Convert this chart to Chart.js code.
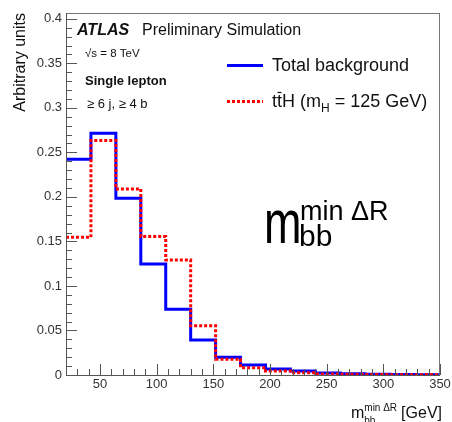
<!DOCTYPE html>
<html>
<head>
<meta charset="utf-8">
<script src="https://cdn.jsdelivr.net/npm/chart.js@4"></script>
<style>
html,body{margin:0;padding:0;background:#fff;}
#c{display:block;}
</style>
</head>
<body>
<canvas id="c" width="452" height="422"></canvas>
<script>
// ---- data ----
const binEdges = [20, 42, 64, 86, 108, 130, 152, 174, 196, 218, 240, 262, 284, 306, 328, 350];
const totalBackground = [0.2424, 0.2715, 0.1985, 0.1247, 0.0738, 0.0393, 0.0199, 0.0112, 0.0067, 0.0045, 0.0022, 0.0014, 0.0009, 0.0006, 0.0004];
const ttH = [0.1547, 0.2633, 0.2090, 0.1554, 0.1292, 0.0554, 0.0176, 0.0082, 0.0045, 0.0026, 0.0012, 0.0008, 0.0005, 0.0003, 0.0002];
const xTicks = [50, 100, 150, 200, 250, 300, 350];
const yTicks = [0, 0.05, 0.1, 0.15, 0.2, 0.25, 0.3, 0.35, 0.4];
const yTickLabels = ['0', '0.05', '0.1', '0.15', '0.2', '0.25', '0.3', '0.35', '0.4'];

function histPoints(vals) {
  const pts = vals.map((v, i) => ({x: binEdges[i], y: v}));
  pts.push({x: binEdges[binEdges.length - 1], y: vals[vals.length - 1]});
  return pts;
}

const FONT = '"Liberation Sans", Arial, Helvetica, sans-serif';

const decorPlugin = {
  id: 'decor',
  afterDatasetsDraw(chart) {
    const ctx = chart.ctx;
    const a = chart.chartArea;
    const xs = chart.scales.x, ys = chart.scales.y;
    ctx.save();
    // frame
    ctx.strokeStyle = '#777';
    ctx.lineWidth = 1;
    ctx.strokeRect(a.left + 0.5, a.top + 0.5, a.right - a.left - 1, a.bottom - a.top);
    ctx.strokeStyle = '#555';
    ctx.beginPath();
    ctx.moveTo(a.left + 0.5, a.top); ctx.lineTo(a.left + 0.5, a.bottom + 0.5);
    ctx.lineTo(a.right, a.bottom + 0.5);
    ctx.stroke();
    // x ticks (inward)
    ctx.beginPath();
    for (let v = 30; v <= 350; v += 10) {
      const px = Math.round(xs.getPixelForValue(v)) + 0.5;
      const len = (v % 50 === 0) ? 11 : 6;
      ctx.moveTo(px, a.bottom); ctx.lineTo(px, a.bottom - len);
    }
    // y ticks
    for (let i = 0; i <= 40; i++) {
      const v = i / 100;
      const py = Math.round(ys.getPixelForValue(v)) + 0.5;
      const len = (i % 5 === 0) ? 11 : 6;
      ctx.moveTo(a.left, py); ctx.lineTo(a.left + len, py);
    }
    ctx.stroke();

    ctx.fillStyle = '#111';
    ctx.textBaseline = 'alphabetic';
    ctx.textAlign = 'left';
    // ATLAS label
    ctx.font = 'italic bold 16px ' + FONT;
    ctx.fillText('ATLAS', 77, 35);
    ctx.font = '16px ' + FONT;
    ctx.fillText('Preliminary Simulation', 142, 35);
    // sqrt(s)
    ctx.font = '11.5px ' + FONT;
    ctx.fillText('\u221As = 8 TeV', 85, 57);
    ctx.font = 'bold 13px ' + FONT;
    ctx.fillText('Single lepton', 85, 85);
    ctx.font = '13px ' + FONT;
    ctx.fillText('\u2265 6 j, \u2265 4 b', 87, 108);

    // legend
    ctx.lineWidth = 3;
    ctx.strokeStyle = '#0000ff';
    ctx.beginPath(); ctx.moveTo(227, 65.5); ctx.lineTo(263, 65.5); ctx.stroke();
    ctx.strokeStyle = '#ff0000';
    ctx.setLineDash([3, 2]);
    ctx.beginPath(); ctx.moveTo(227, 101.5); ctx.lineTo(263, 101.5); ctx.stroke();
    ctx.setLineDash([]);
    ctx.fillStyle = '#111';
    ctx.font = '18px ' + FONT;
    ctx.fillText('Total background', 272, 71);
    let x = 272;
    const by = 107;
    ctx.fillText('tt', x, by);
    const wt = ctx.measureText('t').width;
    // bar over second t
    ctx.lineWidth = 1.2;
    ctx.strokeStyle = '#111';
    ctx.beginPath(); ctx.moveTo(x + wt + 0.5, by - 14.5); ctx.lineTo(x + 2 * wt - 0.5, by - 14.5); ctx.stroke();
    x += ctx.measureText('tt').width;
    ctx.fillText('H (m', x, by);
    x += ctx.measureText('H (m').width;
    ctx.font = '12px ' + FONT;
    ctx.fillText('H', x, by + 5);
    x += ctx.measureText('H').width;
    ctx.font = '18px ' + FONT;
    ctx.fillText(' = 125 GeV)', x, by);

    // big label
    ctx.fillStyle = '#000';
    ctx.save();
    ctx.translate(264, 243);
    ctx.scale(1, 1.35);
    ctx.font = '45px ' + FONT;
    ctx.fillText('m', 0, 0);
    ctx.restore();
    ctx.font = '27px ' + FONT;
    ctx.fillText('min \u0394R', 300, 220);
    ctx.font = '30px ' + FONT;
    ctx.fillText('bb', 299, 246);

    // axis titles
    ctx.fillStyle = '#111';
    ctx.save();
    ctx.translate(25, 13);
    ctx.rotate(-Math.PI / 2);
    ctx.textAlign = 'right';
    ctx.font = '16px ' + FONT;
    ctx.fillText('Arbitrary units', 0, 0);
    ctx.restore();

    ctx.textAlign = 'left';
    ctx.font = '16px ' + FONT;
    const t1 = '[GeV]';
    const w1 = ctx.measureText(t1).width;
    let xr = 442 - w1;
    ctx.fillText(t1, xr, 418);
    ctx.font = '10px ' + FONT;
    const ws = ctx.measureText('min \u0394R').width;
    const wsp = 4;
    const xm = xr - wsp - ws;
    ctx.fillText('min \u0394R', xm, 411);
    ctx.fillText('bb', xm, 424);
    ctx.font = '16px ' + FONT;
    const wm = ctx.measureText('m').width;
    ctx.fillText('m', xm - wm, 418);
    ctx.restore();
  }
};

new Chart(document.getElementById('c'), {
  type: 'line',
  data: {
    datasets: [
      {
        label: 'ttH (mH = 125 GeV)',
        data: histPoints(ttH),
        borderColor: '#ff0000',
        borderWidth: 3,
        borderDash: [3, 2],
        stepped: true,
        pointRadius: 0,
        fill: false,
        tension: 0
      },
      {
        label: 'Total background',
        data: histPoints(totalBackground),
        borderColor: '#0000ff',
        borderWidth: 3,
        stepped: true,
        pointRadius: 0,
        fill: false,
        tension: 0
      }
    ]
  },
  options: {
    responsive: false,
    devicePixelRatio: 1,
    animation: false,
    layout: {padding: {left: 0, top: 13, right: 12, bottom: 0}},
    plugins: {legend: {display: false}, tooltip: {enabled: false}},
    scales: {
      x: {
        type: 'linear',
        min: 20, max: 350,
        grid: {display: false, drawTicks: false},
        border: {display: false},
        afterBuildTicks(s) { s.ticks = xTicks.map(v => ({value: v})); },
        afterFit(s) { s.height = 47; s.paddingRight = 0; s.paddingLeft = 0; },
        ticks: {
          padding: 2,
          maxRotation: 0,
          autoSkip: false,
          color: '#333',
          font: {family: FONT, size: 13},
          callback: (v) => String(v)
        }
      },
      y: {
        type: 'linear',
        min: 0, max: 0.4065,
        grid: {display: false, drawTicks: false},
        border: {display: false},
        afterBuildTicks(s) { s.ticks = yTicks.map(v => ({value: v})); },
        afterFit(s) { s.width = 66; s.paddingTop = 0; s.paddingBottom = 0; },
        ticks: {
          padding: 4,
          autoSkip: false,
          color: '#333',
          font: {family: FONT, size: 13},
          callback: (v) => { const i = yTicks.indexOf(v); return i >= 0 ? yTickLabels[i] : ''; }
        }
      }
    }
  },
  plugins: [decorPlugin]
});
</script>
</body>
</html>
